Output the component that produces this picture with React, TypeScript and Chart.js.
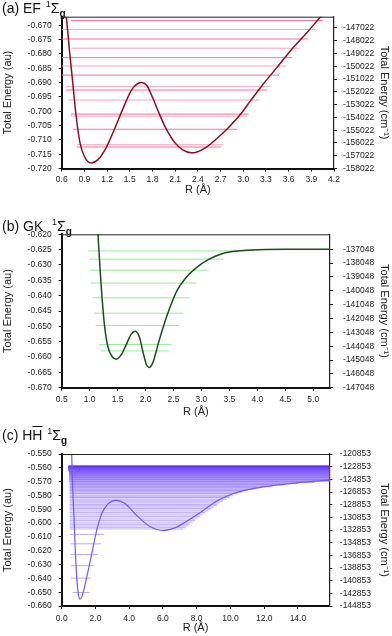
import React, { useEffect, useRef } from "react";
import { Chart, registerables } from "chart.js";
Chart.register(...registerables);

const FONT = '"Liberation Sans", Arial, Helvetica, sans-serif';

// ---------------- (a) EF 1Σg ----------------
const EF_R = [0.64, 0.66, 0.70, 0.745, 0.79, 0.84, 0.90, 0.99, 1.08, 1.19, 1.30, 1.41, 1.52, 1.59, 1.655, 1.725, 1.80, 1.89, 1.98, 2.09, 2.20, 2.31, 2.38, 2.51, 2.64, 2.79, 2.95, 3.10, 3.25, 3.45, 3.65, 3.85, 4.00, 4.06];
const EF_E = [-0.6600, -0.6665, -0.6781, -0.6898, -0.7015, -0.7108, -0.7158, -0.7181, -0.7169, -0.7126, -0.7061, -0.6991, -0.6927, -0.6906, -0.6900, -0.6910, -0.6951, -0.7009, -0.7061, -0.7108, -0.7135, -0.7145, -0.7143, -0.7126, -0.7098, -0.7061, -0.7015, -0.6962, -0.6910, -0.6846, -0.6781, -0.6723, -0.6677, -0.6659];
const EF_LEVEL_E = [-0.6683, -0.6715, -0.6748, -0.6780, -0.6813, -0.6842, -0.6874, -0.6913, -0.6926, -0.6961, -0.7010, -0.7017, -0.7063, -0.7117, -0.7125];
const EF_LEVEL_START = [0.72, 0.60, 0.60, 0.73, 0.60, 0.60, 0.60, 0.65, 0.65, 0.69, 0.72, 0.72, 0.75, 0.80, 0.80];
const EF_LEVEL_END = [4.053, 3.957, 3.855, 3.755, 3.649, 3.565, 3.472, 3.359, 3.319, 3.214, 3.072, 3.050, 2.923, 2.738, 2.703];
const EF_X_TICKS = [0.6, 0.9, 1.2, 1.5, 1.8, 2.1, 2.4, 2.7, 3.0, 3.3, 3.6, 3.9, 4.2];
const EF_Y_TICKS = [-0.72, -0.715, -0.71, -0.705, -0.7, -0.695, -0.69, -0.685, -0.68, -0.675, -0.67];
const EF_CM_TICKS = [-158022, -157022, -156022, -155022, -154022, -153022, -152022, -151022, -150022, -149022, -148022, -147022];

// ---------------- (b) GK 1Σg ----------------
const GK_R = [1.12, 1.149, 1.18, 1.22, 1.268, 1.326, 1.404, 1.475, 1.564, 1.652, 1.741, 1.817, 1.888, 1.96, 2.018, 2.066, 2.137, 2.213, 2.30, 2.42, 2.567, 2.716, 2.894, 3.13, 3.425, 3.90, 4.5, 5.3];
const GK_E = [-0.6100, -0.6200, -0.6295, -0.6403, -0.6501, -0.6566, -0.6599, -0.6607, -0.6593, -0.6561, -0.6526, -0.6516, -0.6534, -0.6588, -0.6626, -0.6634, -0.6615, -0.6566, -0.6512, -0.6447, -0.6382, -0.6343, -0.6311, -0.6282, -0.6260, -0.6251, -0.6249, -0.6249];
const GK_LEVEL_E = [-0.6254, -0.6281, -0.6317, -0.6359, -0.6407, -0.6457, -0.6497, -0.6559, -0.6580];
const GK_LEVEL_START = [0.972, 0.984, 1.002, 1.020, 1.05, 1.078, 1.108, 1.167, 1.198];
const GK_LEVEL_END = [3.95, 3.395, 3.13, 2.91, 2.787, 2.668, 2.597, 2.468, 2.42];
const GK_X_TICKS = [0.5, 1.0, 1.5, 2.0, 2.5, 3.0, 3.5, 4.0, 4.5, 5.0];
const GK_Y_TICKS = [-0.67, -0.665, -0.66, -0.655, -0.65, -0.645, -0.64, -0.635, -0.63, -0.625, -0.62];
const GK_CM_TICKS = [-147048, -146048, -145048, -144048, -143048, -142048, -141048, -140048, -139048, -138048, -137048];

// ---------------- (c) HH̄ 1Σg ----------------
const HH_R = [0.56, 0.593, 0.652, 0.729, 0.807, 0.889, 0.986, 1.084, 1.244, 1.48, 1.778, 2.074, 2.37, 2.76, 3.22, 3.75, 4.44, 5.23, 6.02, 6.81, 7.60, 8.39, 9.19, 10.17, 11.35, 12.54, 13.93, 15.8, 16.0];
const HH_E = [-0.535, -0.5500, -0.5743, -0.5956, -0.6199, -0.6393, -0.6514, -0.6551, -0.6514, -0.6393, -0.6223, -0.6053, -0.5932, -0.5859, -0.5835, -0.5859, -0.5944, -0.6024, -0.6053, -0.6029, -0.5972, -0.5908, -0.5840, -0.5786, -0.5750, -0.5728, -0.5709, -0.5689, -0.5688];
const HH_INNER_E = [-0.6082, -0.6150, -0.6228, -0.6308, -0.6398, -0.6502];
const HH_INNER_START = [0.49, 0.52, 0.52, 0.55, 0.55, 0.65];
const HH_INNER_END = [2.51, 2.33, 2.13, 1.93, 1.74, 1.64];
const HH_BAND_E = [-0.6042, -0.6032, -0.6020, -0.6007, -0.5994, -0.5980, -0.5966, -0.5952, -0.5938, -0.5924, -0.5910, -0.5896, -0.5882, -0.5868, -0.5854, -0.5840, -0.5826, -0.5812, -0.5799, -0.5786, -0.5774, -0.5762, -0.5751, -0.5740, -0.5730, -0.5720, -0.5711, -0.5702, -0.5694, -0.5686, -0.5678, -0.5670, -0.5662, -0.5654, -0.5647, -0.5640, -0.5633, -0.5627, -0.5621, -0.5615, -0.5610, -0.5605, -0.5601, -0.5597, -0.5594, -0.5592, -0.5590];
const HH_BAND_START = [0.47, 0.47, 0.47, 0.47, 0.47, 0.47, 0.47, 0.47, 0.47, 0.47, 0.47, 0.47, 0.47, 0.47, 0.47, 0.47, 0.47, 0.47, 0.47, 0.47, 0.47, 0.47, 0.47, 0.47, 0.47, 0.47, 0.47, 0.47, 0.45, 0.45, 0.45, 0.45, 0.45, 0.45, 0.45, 0.45, 0.45, 0.45, 0.40, 0.40, 0.40, 0.40, 0.40, 0.40, 0.40, 0.40, 0.40];
const HH_BAND_END = [7.2, 7.35, 7.5, 7.6, 7.75, 7.9, 8.05, 8.2, 8.35, 8.5, 8.7, 8.85, 9.0, 9.2, 9.35, 9.55, 9.75, 9.95, 10.15, 10.4, 10.7, 11.0, 11.4, 11.9, 12.5, 13.2, 14.0, 15.0, 16, 16, 16, 16, 16, 16, 16, 16, 16, 16, 16, 16, 16, 16, 16, 16, 16, 16, 16];
const HH_X_TICKS = [0, 2, 4, 6, 8, 10, 12, 14];
const HH_Y_TICKS = [-0.66, -0.65, -0.64, -0.63, -0.62, -0.61, -0.6, -0.59, -0.58, -0.57, -0.56, -0.55];
const HH_CM_TICKS = [-144853, -142853, -140853, -138853, -136853, -134853, -132853, -130853, -128853, -126853, -124853, -122853, -120853];

// ---------------- helpers ----------------
function curveDataset(R: number[], E: number[], color: string, width: number) {
  return {
    data: R.map((x, i) => ({ x, y: E[i] })),
    borderColor: color,
    borderWidth: width,
    pointRadius: 0,
    cubicInterpolationMode: "monotone",
    fill: false,
  };
}

function levelDatasets(E: number[], S: number[], F: number[], colorFn: (i: number) => string, width = 1) {
  return E.map((e, i) => ({
    data: [
      { x: S[i], y: e },
      { x: F[i], y: e },
    ],
    borderColor: colorFn(i),
    borderWidth: width,
    pointRadius: 0,
    tension: 0,
    fill: false,
  }));
}

function bandColor(i: number) {
  const n = HH_BAND_E.length - 1;
  const t = Math.pow(i / n, 2.2);
  const r = Math.round(220 - (220 - 88) * t);
  const g = Math.round(210 - (210 - 40) * t);
  const b = Math.round(252 - (252 - 244) * t);
  const d = i % 2 === 0 ? 0 : 22;
  return `rgb(${Math.max(0, r - d)},${Math.max(0, g - d)},${b})`;
}

const framePlugin = {
  id: "frame",
  afterDatasetsDraw(chart: any) {
    const { ctx, chartArea } = chart;
    ctx.save();
    ctx.strokeStyle = "#222";
    ctx.lineWidth = 1;
    ctx.beginPath();
    ctx.moveTo(chartArea.left, chartArea.top + 0.5);
    ctx.lineTo(chartArea.right, chartArea.top + 0.5);
    ctx.stroke();
    ctx.restore();
  },
};

interface Spec {
  top: number;
  height: number;
  plotTop: number;
  plotBottom: number;
  plotLeft: number;
  plotRight: number;
  xMin: number;
  xMax: number;
  xTicks: number[];
  xDec: number;
  xPad: number;
  yMin: number;
  yMax: number;
  yTicks: number[];
  rMin: number;
  rMax: number;
  rTicks: number[];
  rPad: number;
  datasets: any[];
}

function buildConfig(s: Spec): any {
  const tickFont = { family: FONT, size: 8.5 };
  const titleFont = { family: FONT, size: 11 };
  const grid = { display: true, drawOnChartArea: false, drawTicks: true, tickLength: 3, tickColor: "#111", tickWidth: 1 };
  return {
    type: "line",
    data: { datasets: s.datasets },
    options: {
      responsive: false,
      animation: false,
      events: [],
      layout: { padding: { top: s.plotTop - s.top, left: 0, right: 0, bottom: 0 } },
      plugins: { legend: { display: false }, tooltip: { enabled: false } },
      scales: {
        x: {
          type: "linear",
          position: "bottom",
          min: s.xMin,
          max: s.xMax,
          afterBuildTicks: (sc: any) => {
            sc.ticks = s.xTicks.map((v) => ({ value: v }));
          },
          afterFit: (sc: any) => {
            sc.height = s.top + s.height - s.plotBottom;
          },
          grid,
          border: { display: true, color: "#111", width: 2 },
          ticks: {
            font: tickFont,
            color: "#222",
            padding: s.xPad,
            maxRotation: 0,
            autoSkip: false,
            callback: (v: any) => Number(v).toFixed(s.xDec),
          },
          title: { display: true, text: "R (Å)", font: titleFont, color: "#222", padding: { top: 0, bottom: 1 } },
        },
        y: {
          type: "linear",
          position: "left",
          min: s.yMin,
          max: s.yMax,
          afterBuildTicks: (sc: any) => {
            sc.ticks = s.yTicks.map((v) => ({ value: v }));
          },
          afterFit: (sc: any) => {
            sc.width = s.plotLeft;
          },
          grid,
          border: { display: true, color: "#111", width: 2 },
          ticks: {
            font: tickFont,
            color: "#222",
            padding: 7,
            autoSkip: false,
            callback: (v: any) => Number(v).toFixed(3),
          },
          title: { display: true, text: "Total Energy (au)", font: titleFont, color: "#222", padding: 1 },
        },
        y2: {
          type: "linear",
          position: "right",
          min: s.rMin,
          max: s.rMax,
          afterBuildTicks: (sc: any) => {
            sc.ticks = s.rTicks.map((v) => ({ value: v }));
          },
          afterFit: (sc: any) => {
            sc.width = 392 - s.plotRight;
          },
          grid,
          border: { display: true, color: "#222", width: 1.2 },
          ticks: {
            font: tickFont,
            color: "#222",
            padding: s.rPad,
            autoSkip: false,
            callback: (v: any) => String(Math.round(Number(v))),
          },
          title: { display: true, text: "Total Energy (cm⁻¹)", font: titleFont, color: "#222", padding: 1 },
        },
      },
    },
    plugins: [framePlugin],
  };
}

const SPEC_A: Spec = {
  top: 0,
  height: 198,
  plotTop: 16.7,
  plotBottom: 168.5,
  plotLeft: 61.7,
  plotRight: 334,
  xMin: 0.6,
  xMax: 4.2,
  xTicks: EF_X_TICKS,
  xDec: 1,
  xPad: 3.5,
  yMin: -0.72,
  yMax: -0.667,
  yTicks: EF_Y_TICKS,
  rMin: -158022,
  rMax: -158022 + 0.053 * 224215,
  rTicks: EF_CM_TICKS,
  rPad: 6,
  datasets: [
    curveDataset(EF_R, EF_E, "#8b0f22", 1.5),
    ...levelDatasets(EF_LEVEL_E, EF_LEVEL_START, EF_LEVEL_END, (i) => (i % 2 === 0 ? "#f37199" : "#f8a6be")),
  ],
};

const SPEC_B: Spec = {
  top: 205,
  height: 215,
  plotTop: 234.3,
  plotBottom: 387.7,
  plotLeft: 61.7,
  plotRight: 330,
  xMin: 0.5,
  xMax: 5.3,
  xTicks: GK_X_TICKS,
  xDec: 1,
  xPad: 4,
  yMin: -0.67,
  yMax: -0.62,
  yTicks: GK_Y_TICKS,
  rMin: -147048,
  rMax: -147048 + 0.05 * 221680,
  rTicks: GK_CM_TICKS,
  rPad: 10,
  datasets: [
    curveDataset(GK_R, GK_E, "#1d4a1d", 1.5),
    ...levelDatasets(GK_LEVEL_E, GK_LEVEL_START, GK_LEVEL_END, () => "#9be89b"),
  ],
};

const SPEC_C: Spec = {
  top: 425,
  height: 211,
  plotTop: 454,
  plotBottom: 606,
  plotLeft: 61.7,
  plotRight: 329.3,
  xMin: 0,
  xMax: 15.86,
  xTicks: HH_X_TICKS,
  xDec: 1,
  xPad: 5,
  yMin: -0.66,
  yMax: -0.55,
  yTicks: HH_Y_TICKS,
  rMin: -144853,
  rMax: -120853,
  rTicks: HH_CM_TICKS,
  rPad: 7.5,
  datasets: [
    curveDataset(HH_R, HH_E, "#6f5cec", 1.2),
    ...levelDatasets(HH_BAND_E, HH_BAND_START, HH_BAND_END, bandColor, 1.7),
    ...levelDatasets(HH_INNER_E, HH_INNER_START, HH_INNER_END, () => "#b9a8f6"),
  ],
};

function PanelChart({ spec }: { spec: Spec }) {
  const ref = useRef<HTMLCanvasElement>(null);
  useEffect(() => {
    const chart = new Chart(ref.current as HTMLCanvasElement, buildConfig(spec));
    return () => chart.destroy();
  }, [spec]);
  return (
    <canvas
      ref={ref}
      width={392}
      height={spec.height}
      style={{ position: "absolute", left: 0, top: spec.top, width: 392, height: spec.height, display: "block" }}
    />
  );
}

function PanelTitle({ top, children }: { top: number; children: any }) {
  return (
    <div
      style={{
        position: "absolute",
        left: 2,
        top,
        fontFamily: FONT,
        fontSize: 14,
        lineHeight: "16px",
        color: "#111",
        whiteSpace: "nowrap",
      }}
    >
      {children}
    </div>
  );
}

const Sup = ({ c }: { c: string }) => (
  <span style={{ fontSize: 9, position: "relative", top: -6, marginLeft: 1 }}>{c}</span>
);
const Sub = ({ c }: { c: string }) => (
  <span style={{ fontSize: 10, fontWeight: "bold", position: "relative", top: 4 }}>{c}</span>
);

export default function App() {
  return (
    <div
      style={{
        position: "fixed",
        left: 0,
        top: 0,
        width: 392,
        height: 636,
        overflow: "hidden",
        background: "#fff",
      }}
    >
      <PanelChart spec={SPEC_A} />
      <PanelChart spec={SPEC_B} />
      <PanelChart spec={SPEC_C} />
      <PanelTitle top={0}>
        (a) EF <Sup c="1" />Σ<Sub c="g" />
      </PanelTitle>
      <PanelTitle top={218}>
        (b) GK &nbsp;<Sup c="1" />Σ<Sub c="g" />
      </PanelTitle>
      <PanelTitle top={427}>
        (c) H<span style={{ textDecoration: "overline" }}>H</span> <Sup c="1" />Σ<Sub c="g" />
      </PanelTitle>
    </div>
  );
}
